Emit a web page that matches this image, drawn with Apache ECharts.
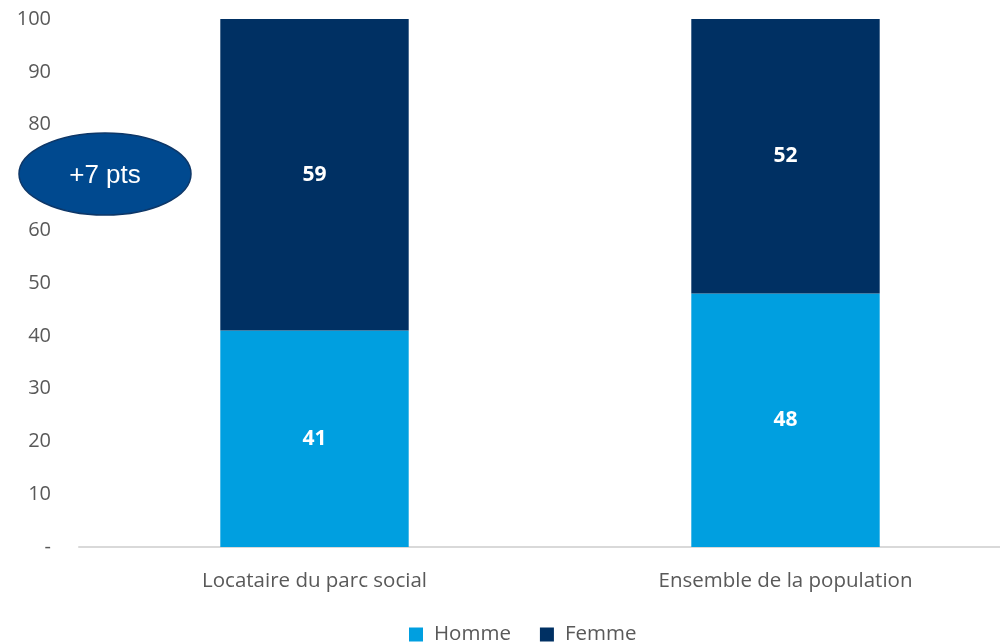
<!DOCTYPE html>
<html>
<head>
<meta charset="utf-8">
<script src="https://cdn.jsdelivr.net/npm/echarts@6/dist/echarts.min.js"></script>
<style>
  html, body { margin: 0; padding: 0; background: #fff; }
  #chart { width: 1000px; height: 643px; }
</style>
</head>
<body>
<div id="chart"></div>
<script>
// data
var categories = ['Locataire du parc social', 'Ensemble de la population'];
var homme = [41, 48];
var femme = [59, 52];
var yTicks = [0, 10, 20, 30, 40, 50, 60, 70, 80, 90, 100];
var note = '+7 pts';

var chart = echarts.init(document.getElementById('chart'));
var font = '"Open Sans", "DejaVu Sans", sans-serif';

var barLabel = {
    show: true,
    position: 'inside',
    color: '#fff',
    fontWeight: 'bold',
    fontSize: 21,
    fontFamily: font
};

var option = {
    animation: false,
    // plot runs past the right edge, like the cropped original
    grid: { left: 79, width: 942, top: 19, bottom: 96, outerBoundsMode: 'none' },
    legend: {
        top: 624,
        left: 409,
        itemWidth: 14,
        itemHeight: 14,
        itemGap: 29,
        icon: 'rect',
        padding: 0,
        textStyle: { color: '#595959', fontSize: 20.5, fontFamily: font, padding: [0, 0, 0, 6] },
        data: ['Homme', 'Femme']
    },
    xAxis: {
        type: 'category',
        data: categories,
        axisLine: { lineStyle: { color: '#d9d9d9', width: 2 } },
        axisTick: { show: false },
        axisLabel: { color: '#595959', fontSize: 20.5, fontFamily: font, margin: 24 }
    },
    yAxis: {
        type: 'value',
        min: 0,
        max: 100,
        interval: 10,
        splitLine: { show: false },
        axisLine: { show: false },
        axisTick: { show: false },
        axisLabel: {
            color: '#595959',
            fontSize: 20,
            fontFamily: font,
            margin: 28,
            formatter: function (v) { return v === yTicks[0] ? '-' : v; }
        }
    },
    series: [
        {
            name: 'Homme',
            type: 'bar',
            stack: 'total',
            barWidth: '40%',
            itemStyle: { color: '#009fe0' },
            label: barLabel,
            data: homme
        },
        {
            name: 'Femme',
            type: 'bar',
            stack: 'total',
            barWidth: '40%',
            itemStyle: { color: '#003063' },
            label: barLabel,
            data: femme
        }
    ],
    graphic: [
        {
            type: 'ellipse',
            z: 100,
            shape: { cx: 105, cy: 174, rx: 86, ry: 41 },
            style: { fill: '#00498f', stroke: '#0d3768', lineWidth: 1.5 }
        },
        {
            type: 'text',
            z: 101,
            x: 105,
            y: 176,
            style: {
                text: note,
                fill: '#fff',
                fontSize: 26,
                fontFamily: '"Liberation Sans", Arial, sans-serif',
                align: 'center',
                verticalAlign: 'middle'
            }
        }
    ]
};

chart.setOption(option);
</script>
</body>
</html>
